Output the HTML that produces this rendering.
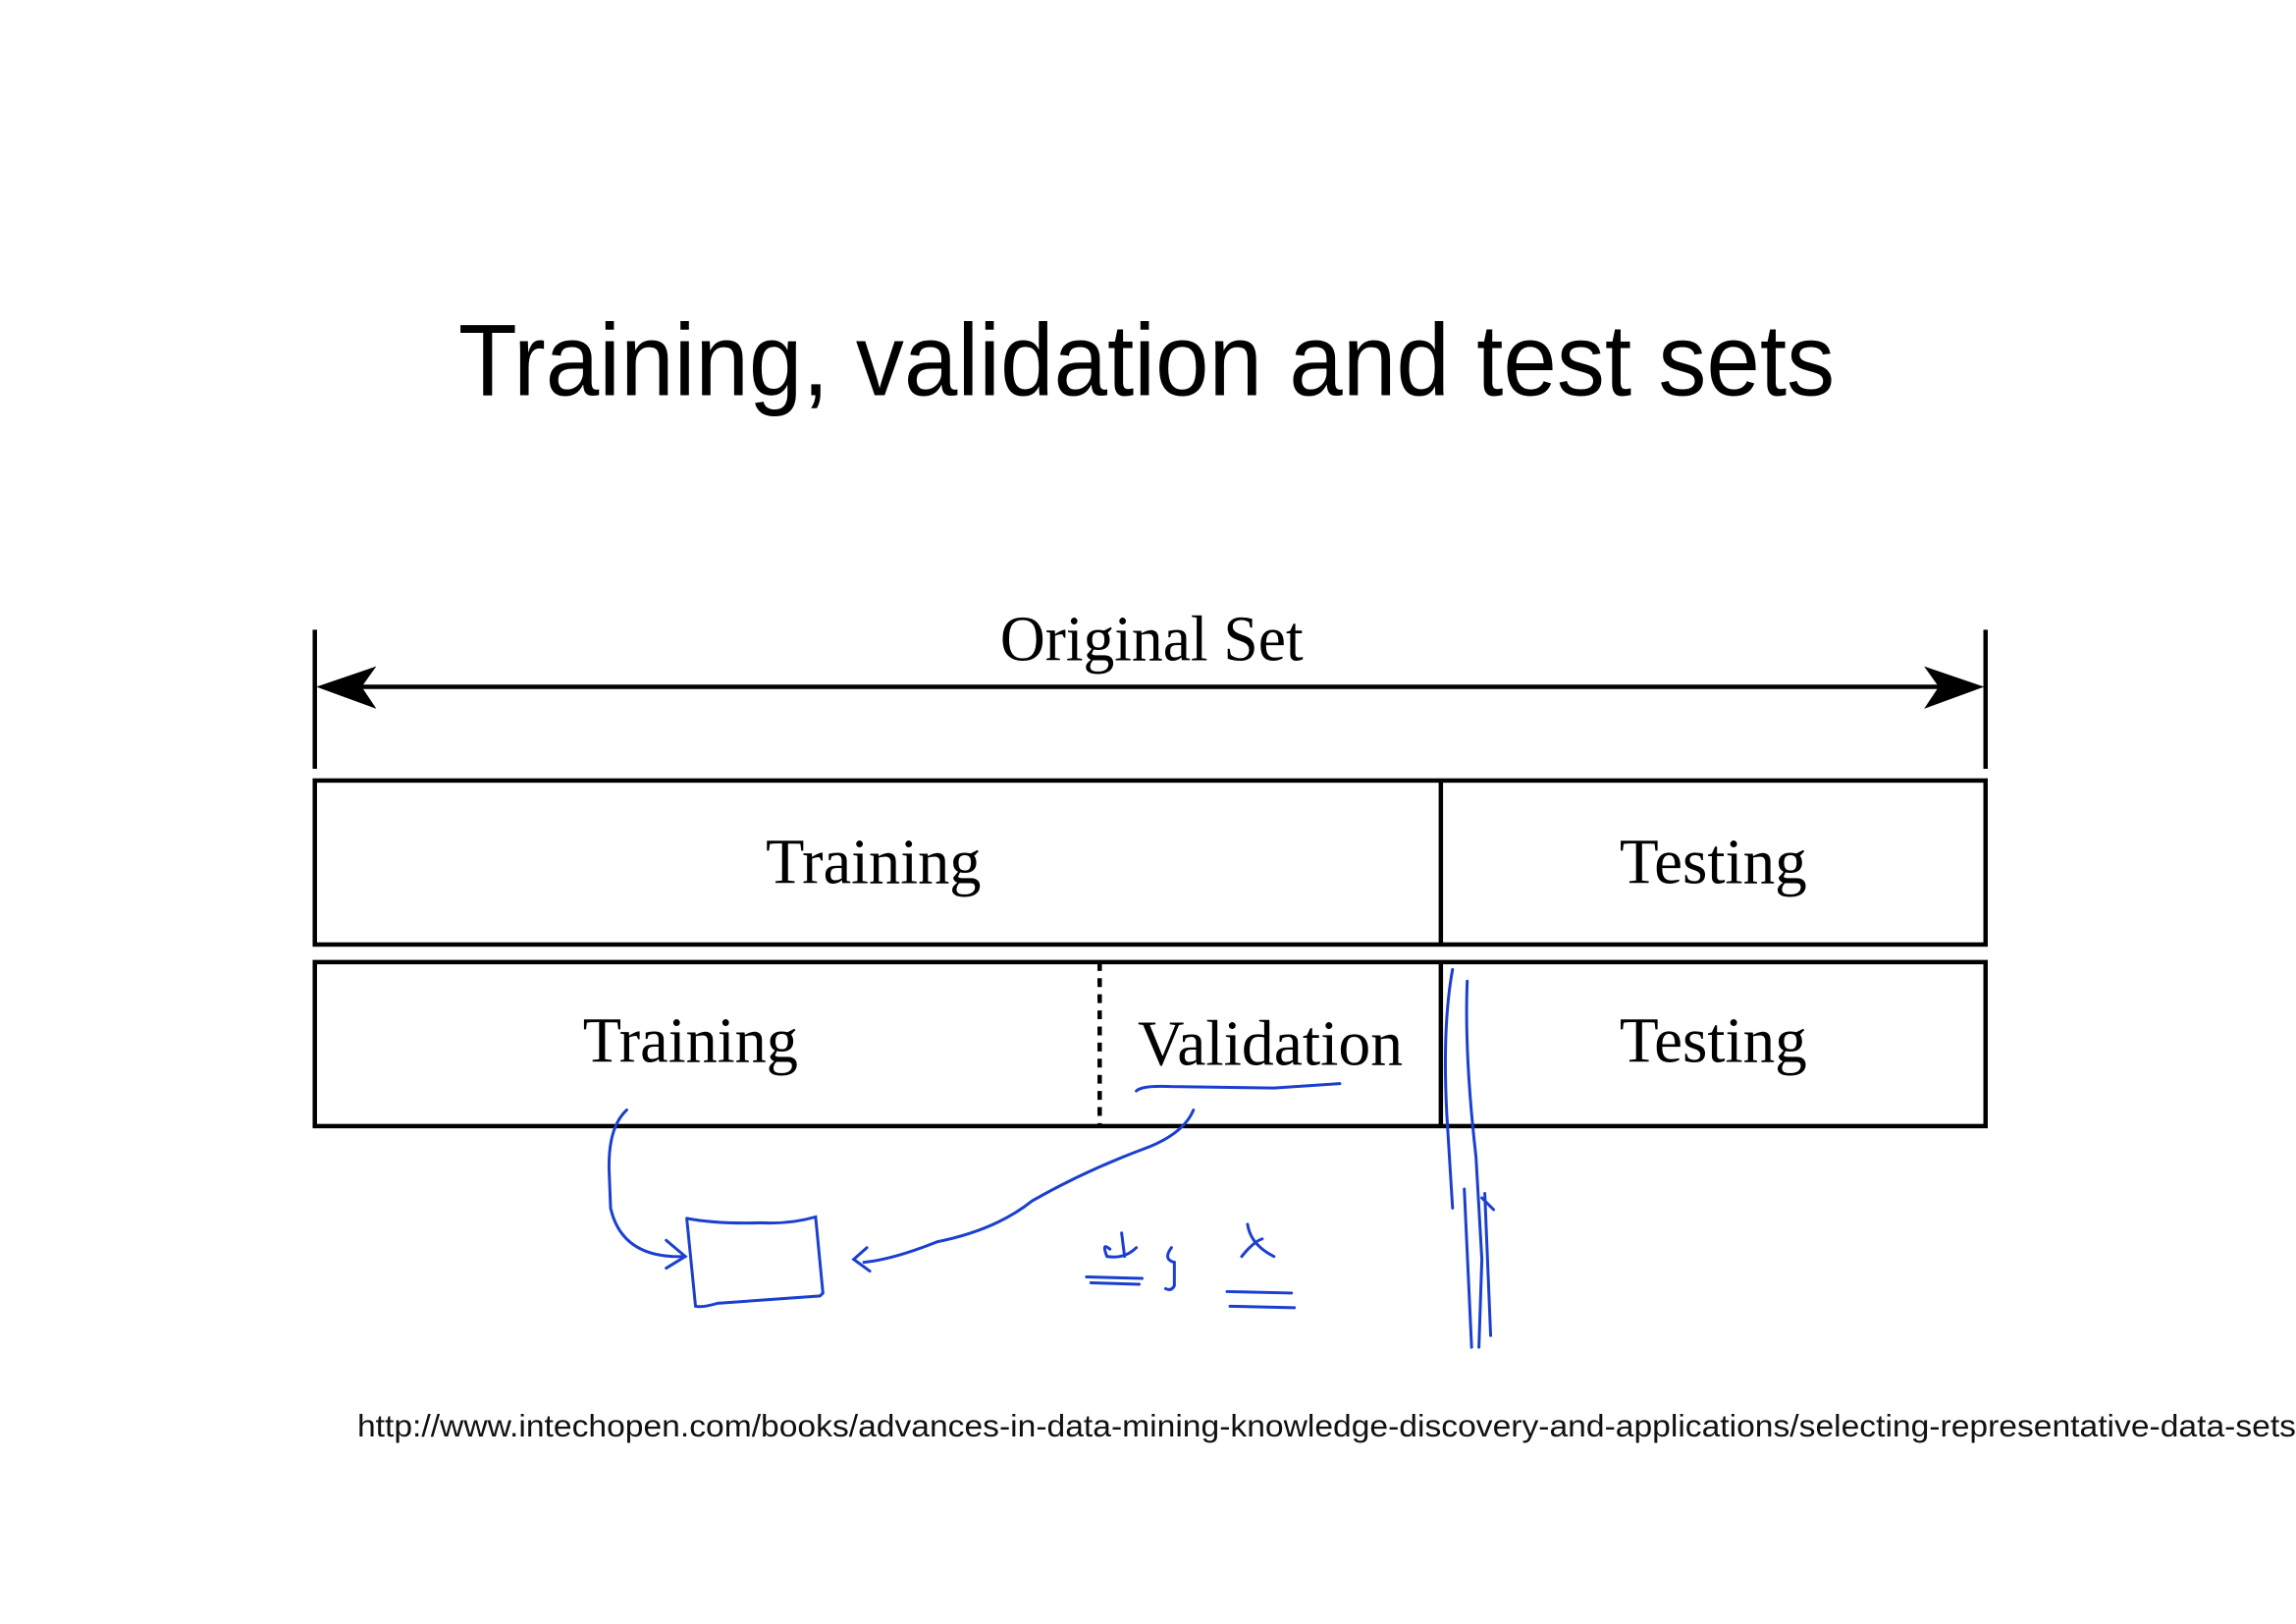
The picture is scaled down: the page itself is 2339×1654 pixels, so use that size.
<!DOCTYPE html>
<html><head><meta charset="utf-8"><style>
html,body{margin:0;padding:0;background:#fff;}
svg{display:block;}
</style></head><body>
<svg width="2339" height="1654" viewBox="0 0 1568 1109" preserveAspectRatio="none" xmlns="http://www.w3.org/2000/svg">
<rect width="1568" height="1109" fill="#fff"/>
<text x="313" y="270" font-family="Liberation Sans, sans-serif" font-size="70" textLength="940" lengthAdjust="spacingAndGlyphs" fill="#000">Training, validation and test sets</text>

<g font-family="Liberation Serif, serif" fill="#000" font-size="44">
<text x="683" y="451" textLength="207" lengthAdjust="spacingAndGlyphs">Original Set</text>
<text x="523" y="603" textLength="147" lengthAdjust="spacingAndGlyphs">Training</text>
<text x="1106" y="603" textLength="128" lengthAdjust="spacingAndGlyphs">Testing</text>
<text x="398" y="725" textLength="147" lengthAdjust="spacingAndGlyphs">Training</text>
<text x="777" y="727" textLength="181" lengthAdjust="spacingAndGlyphs">Validation</text>
<text x="1106" y="725" textLength="128" lengthAdjust="spacingAndGlyphs">Testing</text>
</g>

<g stroke="#000" stroke-width="3" fill="none">
<line x1="215" y1="430" x2="215" y2="525"/>
<line x1="1356" y1="430" x2="1356" y2="525"/>
<line x1="240" y1="469" x2="1330" y2="469"/>
<rect x="215" y="533" width="1141" height="112"/>
<line x1="984" y1="533" x2="984" y2="645"/>
<rect x="215" y="657" width="1141" height="112"/>
<line x1="984" y1="657" x2="984" y2="769"/>
<line x1="751" y1="657" x2="751" y2="769" stroke-dasharray="6,5"/>
</g>
<path d="M216 469 L257 455 L247 469 L257 484 Z" fill="#000"/>
<path d="M1355 469 L1314 455 L1324 469 L1314 484 Z" fill="#000"/>

<text x="244" y="981" font-family="Liberation Sans, sans-serif" font-size="21" textLength="1324" lengthAdjust="spacingAndGlyphs" fill="#111">http://www.intechopen.com/books/advances-in-data-mining-knowledge-discovery-and-applications/selecting-representative-data-sets</text>

<g stroke="#1a3fd0" stroke-width="2" fill="none" stroke-linecap="round">
<path d="M776 745 Q780 741 800 742 L870 743 Q900 741 915 740"/>
<path d="M428 758 Q415 770 416 800 L417 825 Q425 860 468 858"/>
<path d="M455 847 L468 858 L455 866"/>
<path d="M469 832 L475 892 Q480 893 490 890 L560 885 L562 883 L557 831 Q540 836 520 835 Q490 836 469 832"/>
<path d="M815 758 Q808 775 780 785 Q740 800 705 820 Q680 840 640 848 Q610 860 590 862"/>
<path d="M592 852 L583 860 L594 868"/>
<path d="M766 842 L768 858 M758 853 Q752 848 756 858 Q768 860 776 852"/>
<path d="M742 872 L780 873 M745 876 L778 877"/>
<path d="M800 852 Q794 860 802 862 L802 878 Q800 882 796 880"/>
<path d="M852 836 Q854 850 870 858 M848 858 Q856 848 862 846"/>
<path d="M838 882 L882 883 M840 892 L884 893"/>
<path d="M992 662 Q985 700 988 760 L992 825"/>
<path d="M1002 670 Q1000 720 1008 790 L1012 860 L1010 920"/>
<path d="M1000 812 L1005 920"/>
<path d="M1014 815 L1018 912"/>
<path d="M1012 818 L1020 826"/>
</g>
</svg>
</body></html>
